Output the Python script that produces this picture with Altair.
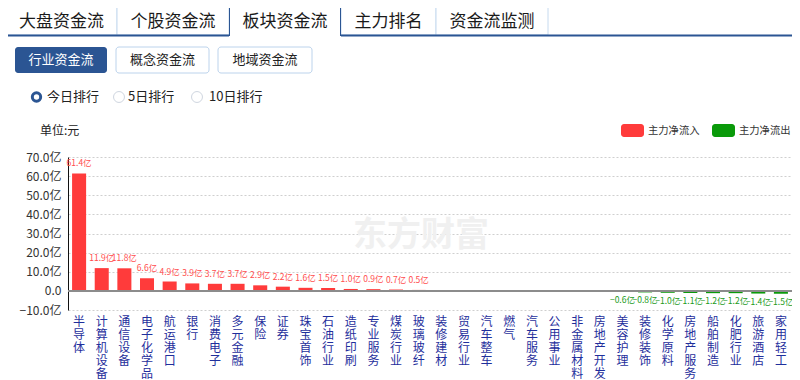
import altair as alt
import pandas as pd

# ---------------- data ----------------
categories = ["半导体", "计算机设备", "通信设备", "电子化学品", "航运港口", "银行", "消费电子",
              "多元金融", "保险", "证券", "珠宝首饰", "石油行业", "造纸印刷", "专业服务",
              "煤炭行业", "玻璃玻纤", "装修建材", "贸易行业", "汽车整车", "燃气", "汽车服务",
              "公用事业", "非金属材料", "房地产开发", "美容护理", "装修装饰", "化学原料",
              "房地产服务", "船舶制造", "化肥行业", "旅游酒店", "家用轻工"]
values = [61.4, 11.9, 11.8, 6.6, 4.9, 3.9, 3.7, 3.7, 2.9, 2.2, 1.6, 1.5, 1.0, 0.9, 0.7, 0.5,
          0.4, 0.3, 0.3, 0.1, 0.0, 0.0, -0.1, -0.4, -0.6, -0.8, -1.0, -1.1, -1.2, -1.2, -1.4, -1.5]
y_ticks = [-10, 0, 10, 20, 30, 40, 50, 60, 70]
legend_labels = ["主力净流入", "主力净流出"]
tabs = ["大盘资金流", "个股资金流", "板块资金流", "主力排名", "资金流监测"]
buttons = ["行业资金流", "概念资金流", "地域资金流"]
radios = ["今日排行", "5日排行", "10日排行"]
unit_text = "单位:元"
watermark = "东方财富"

RED = "#ff3b3b"
GREEN = "#0a9a0a"
NAVY = "#2b5593"
FONT = "Noto Sans CJK SC"

df = pd.DataFrame({"cat": categories, "v": values})

# plot-area origin in page coordinates (page margin 8 + padding)
X0, Y0 = 68, 157
W, H = 724, 153
one = alt.Data(values=[{"a": 1}])


def rect(x1, y1, x2, y2, fill="white", stroke=None, sw=1, cr=0):
    kw = dict(fill=fill, strokeWidth=sw, cornerRadius=cr)
    if stroke:
        kw["stroke"] = stroke
    return alt.Chart(one).mark_rect(**kw).encode(
        x=alt.value(x1 - X0), x2=alt.value(x2 - X0),
        y=alt.value(y1 - Y0), y2=alt.value(y2 - Y0))


def rule(x1, y1, x2, y2, color, sw=1):
    return alt.Chart(one).mark_rule(color=color, strokeWidth=sw).encode(
        x=alt.value(x1 - X0), x2=alt.value(x2 - X0),
        y=alt.value(y1 - Y0), y2=alt.value(y2 - Y0))


def text(s, x, y, size, color="#222", align="left", weight="normal"):
    return alt.Chart(one).mark_text(align=align, baseline="middle", font=FONT,
                                    fontSize=size, color=color, fontWeight=weight).encode(
        x=alt.value(x - X0), y=alt.value(y - Y0), text=alt.value(s))


def circle(x, y, size, stroke, sw):
    return alt.Chart(one).mark_point(shape="circle", filled=False, fill="white",
                                     stroke=stroke, strokeWidth=sw, size=size, opacity=1).encode(
        x=alt.value(x - X0), y=alt.value(y - Y0))


ui = []
# tabs
tab_x = [(6, 117), (117, 229), (229, 341), (341, 436), (436, 548)]
for i, (a, b) in enumerate(tab_x):
    if i != 2:
        ui.append(rect(a, 7, b, 35, fill="white", stroke="#c6daef", sw=1))
ui.append(rule(6, 35.5, 229, 35.5, NAVY, 2))
ui.append(rule(341, 35.5, 800, 35.5, NAVY, 2))
ui.append(rule(229.5, 7, 229.5, 36, NAVY, 1))
ui.append(rule(229.5, 7.5, 340.5, 7.5, NAVY, 1))
ui.append(rule(340.5, 7, 340.5, 36, NAVY, 1))
for (a, b), s in zip(tab_x, tabs):
    ui.append(text(s, (a + b) / 2, 21.5, 17, "#1a1a1a", "center"))

# buttons
btn_x = [(15, 107), (116, 209), (218, 312)]
for i, ((a, b), s) in enumerate(zip(btn_x, buttons)):
    if i == 0:
        ui.append(rect(a, 47, b, 73, fill=NAVY, cr=3))
        ui.append(text(s, (a + b) / 2, 60, 13, "white", "center"))
    else:
        ui.append(rect(a, 47, b, 73, fill="white", stroke="#bcd3ec", sw=1, cr=3))
        ui.append(text(s, (a + b) / 2, 60, 13, "#222", "center"))

# radios
radio_pos = [(36.5, 47), (119, 128), (197, 209)]
for i, ((cx, tx), s) in enumerate(zip(radio_pos, radios)):
    if i == 0:
        ui.append(circle(cx, 97, 70, NAVY, 3))
    else:
        ui.append(circle(cx, 97, 120, "#cfd6e0", 1))
    ui.append(text(s, tx, 97, 13, "#222", "left"))

# unit and legend
ui.append(text(unit_text, 40, 131, 12, "#222", "left"))
ui.append(rect(621, 124, 644, 137, fill=RED, cr=3))
ui.append(text(legend_labels[0], 648, 130.5, 10.3, "#333", "left"))
ui.append(rect(712, 124, 735, 137, fill=GREEN, cr=3))
ui.append(text(legend_labels[1], 739, 130.5, 10.3, "#333", "left"))

# watermark
wm = text(watermark, 421, 236, 34, "#f0f0f0", "center", "bold")

# ---------------- chart ----------------
base = alt.Chart(df)

x_enc = alt.X("cat:N", sort=None,
              scale=alt.Scale(paddingInner=0.38, paddingOuter=0.18),
              axis=alt.Axis(labelExpr="split(datum.label, '')", labelAngle=0,
                            labelBaseline="top", labelAlign="center",
                            labelLineHeight=13, labelPadding=6,
                            labelColor="#1f2f9c", labelFontSize=12, labelFont=FONT,
                            labelOverlap=False, labelLimit=200,
                            ticks=False, domain=False, grid=False, title=None))
y_scale = alt.Scale(domain=[-10, 70], nice=False, zero=False)
y_enc = alt.Y("v:Q", scale=y_scale,
              axis=alt.Axis(values=y_ticks, tickCount=9,
                            labelExpr="datum.value == 0 ? '0.0' : format(datum.value, '.1f') + '亿'",
                            grid=True, gridDash=[2, 2], gridColor="#cfcfcf",
                            domain=True, domainColor="#111", domainWidth=1,
                            ticks=False, labelPadding=7, labelFontSize=12,
                            labelOverlap=False, labelBound=False,
                            labelFont=FONT, labelColor="#333", title=None))

bars = base.mark_bar().encode(
    x=x_enc, y=y_enc, y2=alt.datum(0),
    color=alt.condition("datum.v > 0", alt.value(RED), alt.value(GREEN)))

zero = base.transform_aggregate(n="count()").transform_calculate(v="0").mark_rule(
    color="#8c8c8c", strokeWidth=2).encode(
    y=y_enc, x=alt.value(0), x2=alt.value(W))

pos_labels = base.transform_filter("datum.v >= 0.5").transform_calculate(
    lab="format(datum.v, '.1f') + '亿'").mark_text(
    baseline="bottom", dy=-5, fontSize=8.5, color="#ff4d4d", font=FONT).encode(
    x=x_enc, y=y_enc, text="lab:N")

neg_labels = base.transform_filter("datum.v <= -0.5").transform_calculate(
    lab="format(datum.v, '.1f') + '亿'").mark_text(
    baseline="top", dy=4, fontSize=8.5, color="#1a9a1a", font=FONT).encode(
    x=x_enc, y=y_enc, text="lab:N")

chart = alt.layer(wm, bars, zero, pos_labels, neg_labels, *ui).properties(
    width=W, height=H,
    autosize=alt.AutoSizeParams(type="none"),
    padding={"left": 60, "top": 149, "right": 0, "bottom": 70},
    background="white",
).configure_view(stroke=None)

chart.save("out.html", embed_options={"renderer": "svg", "actions": False})
